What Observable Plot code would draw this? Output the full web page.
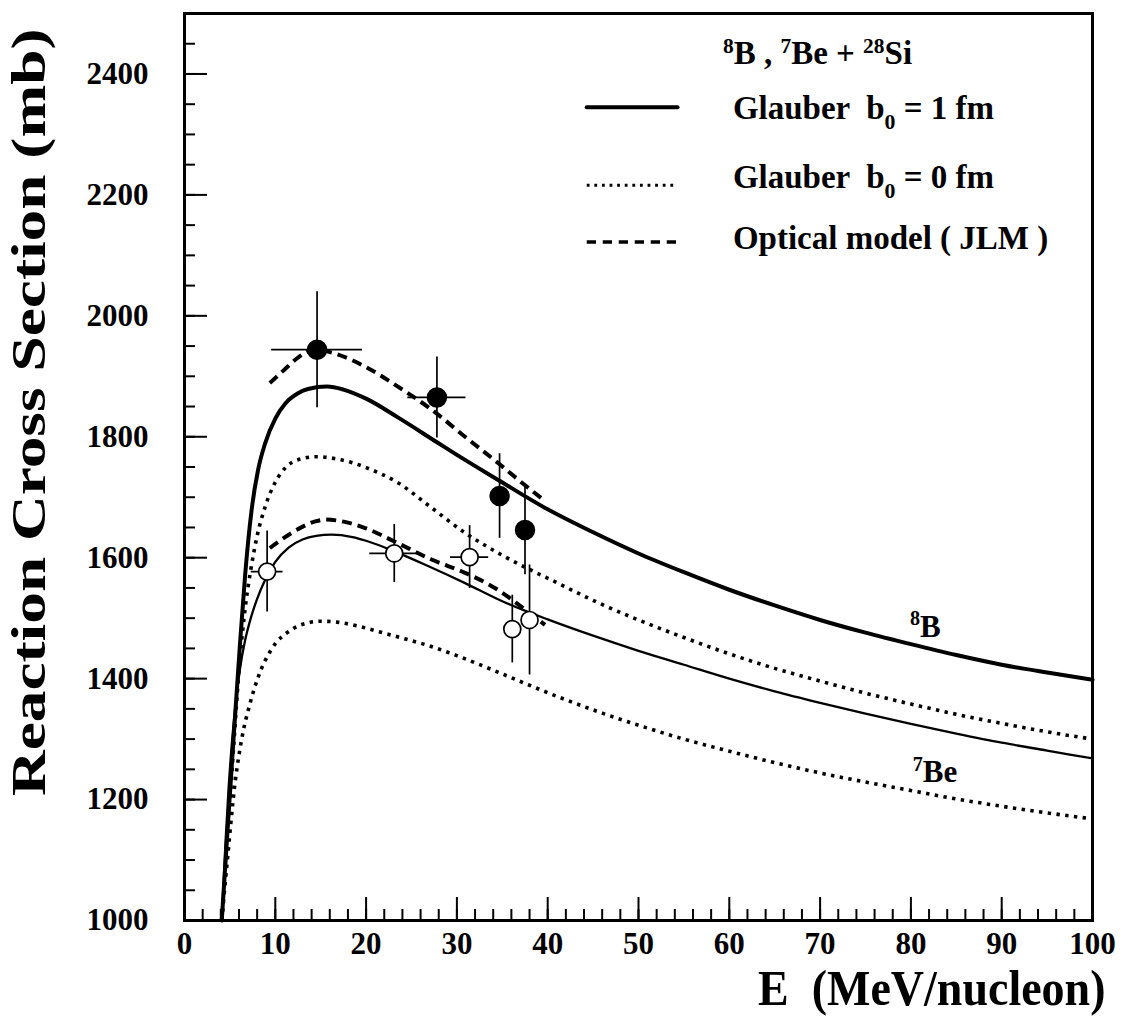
<!DOCTYPE html>
<html><head><meta charset="utf-8">
<script src="https://cdn.jsdelivr.net/npm/d3@7"></script>
<script src="https://cdn.jsdelivr.net/npm/@observablehq/plot@0.6"></script>
<style>
body{margin:0;background:#fff}
#chart svg text{white-space:pre}
</style>
</head><body><div id="chart"></div>
<script>
// ---------- data ----------
// 8B + 28Si, Glauber b0 = 1 fm (thick solid)
const E_B8_b1 = [4.1, 4.5, 4.84, 5.2, 5.57, 6.1, 6.67, 7.4, 8.1, 8.9, 10, 11.1, 12.5, 13.6, 15.7, 17.5, 20, 23.5, 27.9, 30, 34.5, 40, 45, 50, 55, 60, 65, 70, 75, 80, 85, 90, 95, 100];
const S_B8_b1 = [1000, 1092, 1172, 1255, 1338, 1455, 1570, 1680, 1745, 1790, 1830, 1855, 1872, 1879, 1883, 1878, 1863, 1832, 1790, 1770, 1729, 1680, 1642, 1607, 1576, 1547, 1521, 1497, 1476, 1457, 1439, 1423, 1410, 1398];
// 8B + 28Si, Glauber b0 = 0 fm (dotted)
const E_B8_b0 = [4.1, 4.66, 5.39, 6.1, 6.67, 7.3, 8, 8.9, 10, 11.2, 12.5, 14.6, 16.5, 18.5, 20, 23.5, 27, 30.9, 35, 41.1, 45.5, 50, 55, 60, 65, 70, 75, 80, 85, 90, 95, 100];
const S_B8_b0 = [1000, 1117, 1283, 1431, 1515, 1580, 1636, 1685, 1725, 1750, 1762, 1767, 1764, 1757, 1749, 1724, 1685, 1641, 1604, 1558, 1526, 1497, 1468, 1441, 1417, 1396, 1376, 1358, 1341, 1326, 1312, 1300];
// 7Be + 28Si, Glauber b0 = 1 fm (thin solid)
const E_Be7_b1 = [4.1, 4.5, 4.84, 5.2, 5.57, 6.1, 6.67, 7.3, 8, 8.9, 10, 11.5, 13, 14.5, 16.2, 18.5, 20, 23.5, 27, 30.9, 35, 40, 45, 50, 55, 60, 65, 70, 75, 80, 85, 90, 95, 100];
const S_Be7_b1 = [1000, 1125, 1215, 1290, 1350, 1415, 1463, 1500, 1532, 1564, 1593, 1617, 1630, 1636, 1638, 1634, 1628, 1608, 1585, 1558, 1528, 1498, 1471, 1446, 1423, 1400, 1379, 1360, 1342, 1325, 1309, 1294, 1281, 1268];
// 7Be + 28Si, Glauber b0 = 0 fm (dotted)
const E_Be7_b0 = [4.1, 4.66, 5.57, 6.3, 7.2, 8.1, 9.6, 11.8, 13.5, 15.1, 17, 19.1, 21.3, 24, 27, 30, 34, 38, 42, 46, 50, 55, 60, 65, 70, 75, 80, 85, 90, 95, 100];
const S_Be7_b0 = [1000, 1090, 1228, 1300, 1358, 1402, 1449, 1481, 1492, 1495, 1493, 1487, 1478, 1467, 1454, 1438, 1414, 1389, 1365, 1343, 1323, 1300, 1280, 1261, 1244, 1229, 1215, 1201, 1189, 1178, 1168];
// Optical model (JLM), dashed
const E_B8_jlm = [9.4, 11, 12.5, 14.4, 16.5, 19.9, 23.5, 27.2, 30.9, 34.5, 37, 39.5];
const S_B8_jlm = [1889, 1911, 1931, 1944, 1938, 1916, 1883, 1845, 1800, 1757, 1726, 1696];
const E_Be7_jlm = [9.4, 11.8, 14.4, 15.5, 18, 19.9, 23.5, 27.2, 30.9, 34.5, 37, 39.7];
const S_Be7_jlm = [1616, 1641, 1660, 1663, 1658, 1649, 1624, 1597, 1575, 1547, 1520, 1489];

// measured points
const B8_pts_E    = [14.6, 27.8, 34.7, 37.5];
const B8_pts_sig  = [1944, 1865, 1702, 1646];
const B8_pts_dSig = [96, 67, 70, 74];
const B8_pts_dE   = [5.0, 3.2, 0, 0];
const Be7_pts_E    = [9.1, 23.1, 31.4, 36.1, 38.0];
const Be7_pts_sig  = [1577, 1607, 1601, 1482, 1497];
const Be7_pts_dSig = [67, 48, 52, 56, 91];
const Be7_pts_dE   = [1.75, 2.7, 2.1, 0, 0];

// ticks
const xTicks = [0, 10, 20, 30, 40, 50, 60, 70, 80, 90, 100];
const xMinorTicks = d3.range(2, 100, 2);
const xMajorTicks = d3.range(10, 100, 10);
const yTicks = [1000, 1200, 1400, 1600, 1800, 2000, 2200, 2400];
const yMinorTicks = d3.range(1050, 2500, 50);
const yMajorTicks = d3.range(1200, 2500, 200);

// texts
const xTitle = "E  (MeV/nucleon)";
const yTitle = "Reaction Cross Section (mb)";
const legendTitle = "^{8}B , ^{7}Be + ^{28}Si";
const legendLabels = ["Glauber  b_{0} = 1 fm", "Glauber  b_{0} = 0 fm", "Optical model ( JLM )"];
const legendTitlePos = [59.3, 2434];
const legendTextE = 60.4;
const legendTextY = [2343, 2229, 2128];
const legendLineX = [44.3, 54.3];
const legendLineY = [2345, 2216, 2122];
const curveLabels = ["^{8}B", "^{7}Be"];
const curveLabelE = [79.9, 80.2];
const curveLabelS = [1486, 1245];

// ---------- layout & styles ----------
const W = 1123, H = 1023;
const mL = 184, mR = 31, mT = 13, mB = 103;
const fw = W - mL - mR, fh = H - mT - mB;
const FONT = "'Liberation Serif', 'Times New Roman', Times, serif";

const styles = {
  thick:  {stroke: "black", strokeWidth: 4},
  thin:   {stroke: "black", strokeWidth: 2.3},
  dotted: {stroke: "black", strokeWidth: 3.6, strokeDasharray: "3.4,5.4", strokeLinecap: "butt"},
  dashed: {stroke: "black", strokeWidth: 4, strokeDasharray: "10,6", strokeLinecap: "butt"}
};
const legendStyles = [
  {stroke: "black", strokeWidth: 4},
  {stroke: "black", strokeWidth: 3, strokeDasharray: "2.8,4.8", strokeLinecap: "butt"},
  {stroke: "black", strokeWidth: 3.6, strokeDasharray: "9.3,6.7", strokeLinecap: "butt"}
];

const zip = (E, S) => E.map((e, i) => ({E: e, S: S[i]}));
const curves = [
  [zip(E_B8_b1, S_B8_b1), styles.thick],
  [zip(E_B8_b0, S_B8_b0), styles.dotted],
  [zip(E_Be7_b1, S_Be7_b1), styles.thin],
  [zip(E_Be7_b0, S_Be7_b0), styles.dotted],
  [zip(E_B8_jlm, S_B8_jlm), styles.dashed],
  [zip(E_Be7_jlm, S_Be7_jlm), styles.dashed]
];
const pts = (E, S, dS, dE) => E.map((e, i) => ({E: e, S: S[i], dS: dS[i], dE: dE[i]}));
const B8pts = pts(B8_pts_E, B8_pts_sig, B8_pts_dSig, B8_pts_dE);
const Be7pts = pts(Be7_pts_E, Be7_pts_sig, Be7_pts_dSig, Be7_pts_dE);
const allPts = B8pts.concat(Be7pts);

const marks = [];
// ticks inside the frame
marks.push(Plot.tickX(xMinorTicks, {x: d => d, insetTop: fh - 11, strokeWidth: 2}));
marks.push(Plot.tickX(xMajorTicks, {x: d => d, insetTop: fh - 23, strokeWidth: 2}));
marks.push(Plot.tickY(yMinorTicks, {y: d => d, insetRight: fw - 11, strokeWidth: 2}));
marks.push(Plot.tickY(yMajorTicks, {y: d => d, insetRight: fw - 23, strokeWidth: 2}));
// axis labels
marks.push(Plot.axisX(xTicks, {tickSize: 0, tickPadding: 11, fontSize: 31, label: null, tickFormat: d => String(d)}));
marks.push(Plot.axisY(yTicks, {tickSize: 0, tickPadding: 36, fontSize: 31, label: null, tickFormat: d => String(d)}));
// curves
for (const [data, st] of curves) {
  marks.push(Plot.line(data, {x: "E", y: "S", curve: "monotone-x", ...st}));
}
// error bars
marks.push(Plot.ruleX(allPts, {x: "E", y1: d => d.S - d.dS, y2: d => d.S + d.dS, stroke: "black", strokeWidth: 1.7}));
marks.push(Plot.ruleY(allPts.filter(d => d.dE > 0), {y: "S", x1: d => d.E - d.dE, x2: d => d.E + d.dE, stroke: "black", strokeWidth: 1.7}));
// points
marks.push(Plot.dot(B8pts, {x: "E", y: "S", r: 9.5, fill: "black", stroke: "black"}));
marks.push(Plot.dot(Be7pts, {x: "E", y: "S", r: 8.5, fill: "white", stroke: "black", strokeWidth: 1.7}));
// legend lines
legendLineY.forEach((yv, i) => {
  marks.push(Plot.line(legendLineX.map(x => ({x, y: yv})), {x: "x", y: "y", ...legendStyles[i]}));
});
// legend texts
marks.push(Plot.text([legendTitle], {x: legendTitlePos[0], y: legendTitlePos[1], text: d => d, textAnchor: "start", lineAnchor: "middle", fontSize: 33}));
marks.push(Plot.text(legendLabels, {x: legendTextE, y: (d, i) => legendTextY[i], text: d => d, textAnchor: "start", lineAnchor: "middle", fontSize: 33}));
// curve labels
marks.push(Plot.text(curveLabels, {x: (d, i) => curveLabelE[i], y: (d, i) => curveLabelS[i], text: d => d, textAnchor: "start", lineAnchor: "middle", fontSize: 31}));
// axis titles
marks.push(Plot.text([xTitle], {frameAnchor: "bottom-right", textAnchor: "end", lineAnchor: "middle", dx: 13, dy: 68, fontSize: 46, text: d => d}));
marks.push(Plot.text([yTitle], {frameAnchor: "top-left", rotate: -90, textAnchor: "end", lineAnchor: "middle", dx: -155, dy: 15, fontSize: 48, text: d => d}));
// frame
marks.push(Plot.frame({stroke: "black", strokeWidth: 3}));

const svg = Plot.plot({
  width: W, height: H,
  marginLeft: mL, marginRight: mR, marginTop: mT, marginBottom: mB,
  x: {domain: [0, 100]},
  y: {domain: [1000, 2500]},
  style: {fontFamily: FONT, fontWeight: "bold", background: "white", color: "black", overflow: "visible"},
  marks
});
document.getElementById("chart").appendChild(svg);

// ---------- post-processing: sub/superscripts and glyph stretch ----------
const NS = "http://www.w3.org/2000/svg";
const XMLNS = "http://www.w3.org/XML/1998/namespace";
const allText = Array.from(svg.querySelectorAll("text"));
const byContent = s => allText.filter(el => el.textContent === s);

function richify(s, fs, supSize, supRaise, subSize, subDrop) {
  byContent(s).forEach(el => {
    while (el.firstChild) el.removeChild(el.firstChild);
    el.setAttributeNS(XMLNS, "xml:space", "preserve");
    const re = /\^\{([^}]*)\}|_\{([^}]*)\}|([^^_]+)/g;
    let m, shift = 0;
    while ((m = re.exec(s))) {
      const t = document.createElementNS(NS, "tspan");
      let target, size;
      if (m[1] !== undefined) { target = -supRaise * fs; size = supSize * fs; t.textContent = m[1]; }
      else if (m[2] !== undefined) { target = subDrop * fs; size = subSize * fs; t.textContent = m[2]; }
      else { target = 0; size = fs; t.textContent = m[3]; }
      t.setAttribute("dy", target - shift);
      t.setAttribute("font-size", size);
      shift = target;
      el.appendChild(t);
    }
  });
}
richify(legendTitle, 33, 0.65, 0.33, 0.6, 0.3);
legendLabels.forEach(s => richify(s, 33, 0.6, 0.33, 0.66, 0.3));
curveLabels.forEach(s => richify(s, 31, 0.65, 0.36, 0.6, 0.3));

function stretch(s, sx, sy) {
  byContent(s).forEach(el => {
    el.setAttributeNS(XMLNS, "xml:space", "preserve");
    const tr = el.getAttribute("transform");
    if (tr) el.setAttribute("transform", tr + ` scale(${sx},${sy})`);
    else {
      const x = +el.getAttribute("x") || 0, y = +el.getAttribute("y") || 0;
      el.removeAttribute("x"); el.removeAttribute("y");
      el.setAttribute("transform", `translate(${x},${y}) scale(${sx},${sy})`);
    }
  });
}
stretch(xTitle, 1, 1.1);
stretch(yTitle, 1.32, 1);
</script>
</body></html>
